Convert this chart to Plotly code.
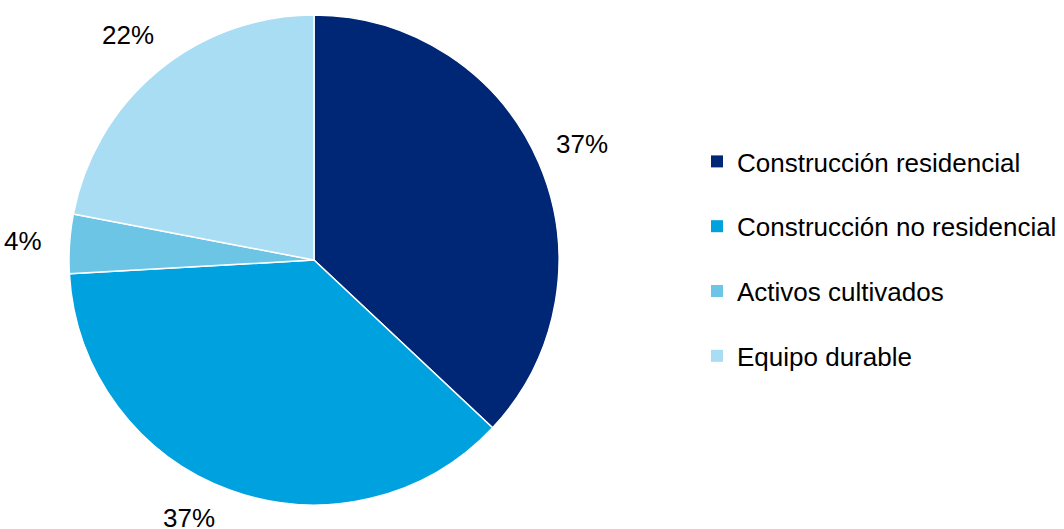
import math
import plotly.graph_objects as go

categories = ["Construcción residencial", "Construcción no residencial", "Activos cultivados", "Equipo durable"]
values = [37.0, 37.1, 3.9, 22.0]
colors = ["#002776", "#00A1DF", "#6DC5E6", "#A9DDF3"]

W, H = 1064, 529
cx, cy, R = 314, 260, 245
FONT = "Liberation Sans, Arial, sans-serif"

fig = go.Figure()
fig.add_trace(go.Pie(
    labels=categories, values=values, sort=False, direction="clockwise", rotation=0,
    marker=dict(colors=colors, line=dict(color="white", width=1.5)),
    textinfo="none", hoverinfo="label+percent", showlegend=False,
    domain=dict(x=[(cx - R) / W, (cx + R) / W], y=[(H - cy - R) / H, (H - cy + R) / H]),
))

# legend entries
for cat, col in zip(categories, colors):
    fig.add_trace(go.Scatter(
        x=[None], y=[None], mode="markers", name=cat, legendgroup=cat,
        marker=dict(symbol="square", size=12, color=col), hoverinfo="skip",
    ))

# percentage labels placed outside, from slice mid angles
total = sum(values)
cum = 0.0
annotations = []
for v in values:
    mid = (cum + v / 2) / total * 2 * math.pi
    cum += v
    r = R * 1.19
    px = cx + r * math.sin(mid)
    py = cy - r * math.cos(mid)
    if py > H - 11:
        py = H - 11
        px -= 25
    annotations.append(dict(
        x=px / W, y=1 - py / H, xref="paper", yref="paper",
        text=f"{round(v / total * 100):.0f}%", showarrow=False,
        font=dict(size=26, color="black", family=FONT),
        xanchor="center", yanchor="middle",
    ))

fig.update_layout(
    width=W, height=H,
    margin=dict(l=0, r=0, t=0, b=0),
    paper_bgcolor="white", plot_bgcolor="white",
    xaxis=dict(visible=False), yaxis=dict(visible=False),
    font=dict(family=FONT, size=26, color="black"),
    legend=dict(x=697 / W, y=1 - 259 / H, xanchor="left", yanchor="middle",
                tracegroupgap=28, itemwidth=30,
                font=dict(size=26, family=FONT, color="black"),
                bgcolor="rgba(0,0,0,0)"),
    annotations=annotations,
)

fig.write_html("out.html", config={"displayModeBar": False},
               post_script="document.body.style.margin='0';document.body.style.overflow='hidden';")
